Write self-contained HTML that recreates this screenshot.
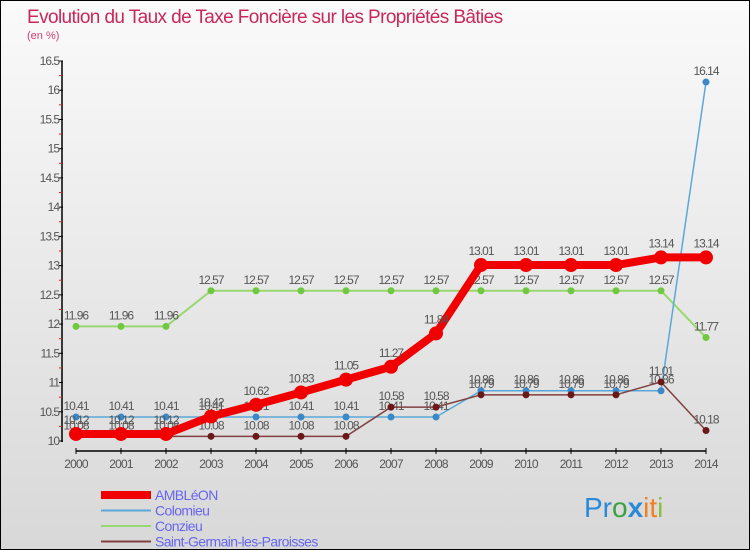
<!DOCTYPE html>
<html><head><meta charset="utf-8">
<style>
html,body{margin:0;padding:0}
body{width:750px;height:550px;overflow:hidden;font-family:"Liberation Sans",sans-serif}
#wrap{position:relative;width:748px;height:548px;border:1px solid #000;background:linear-gradient(#fafafa,#d8d8d8)}
</style></head>
<body>
<div id="wrap">
<svg id="chart" width="748" height="548" style="position:absolute;left:0;top:0">
<text x="26" y="22" font-size="19" fill="#c8285a" style="letter-spacing:-0.6px">Evolution du Taux de Taxe Foncière sur les Propriétés Bâties</text>
<text x="26" y="38" font-size="11" fill="#d04070">(en %)</text>
<g id="axes"></g>
<g id="series"></g>
<g id="legend"></g>
<text x="583" y="516" font-size="28"><tspan fill="#2a8ad8">Pr</tspan><tspan fill="#3aa040">o</tspan><tspan fill="#2a8ad8" font-weight="bold">x</tspan><tspan fill="#f08020">it</tspan><tspan fill="#88c040">i</tspan></text>
</svg>
</div>
<script>
const years=[2000,2001,2002,2003,2004,2005,2006,2007,2008,2009,2010,2011,2012,2013,2014];
const yTicks=[10,10.5,11,11.5,12,12.5,13,13.5,14,14.5,15,15.5,16,16.5];
const ambleon=[10.12,10.12,10.12,10.42,10.62,10.83,11.05,11.27,11.84,13.01,13.01,13.01,13.01,13.14,13.14];
const colomieu=[10.41,10.41,10.41,10.41,10.41,10.41,10.41,10.41,10.41,10.86,10.86,10.86,10.86,10.86,16.14];
const conzieu=[11.96,11.96,11.96,12.57,12.57,12.57,12.57,12.57,12.57,12.57,12.57,12.57,12.57,12.57,11.77];
const stgermain=[10.08,10.08,10.08,10.08,10.08,10.08,10.08,10.58,10.58,10.79,10.79,10.79,10.79,11.01,10.18];
const NS="http://www.w3.org/2000/svg";
const X=i=>75+i*(705-75)/(years.length-1);
const Y=v=>440-(v-10)*(380/6.5);
function mk(tag,attrs,parent){const e=document.createElementNS(NS,tag);for(const k in attrs)e.setAttribute(k,attrs[k]);parent.appendChild(e);return e;}
const axes=document.getElementById('axes');
let e=mk('line',{x1:61,y1:60,x2:61,y2:441,stroke:'#000','stroke-width':1.5},axes);


e=mk('line',{x1:75,y1:450,x2:705,y2:450,stroke:'#000','stroke-width':1.5},axes);


yTicks.forEach(t=>{
  const y=Y(t);
  mk('line',{x1:58,y1:y,x2:62,y2:y,stroke:'#000'},axes);
  if(t<16.5) mk('line',{x1:58,y1:Y(t+0.25),x2:61,y2:Y(t+0.25),stroke:'#e02020'},axes);
  const tx=mk('text',{x:58,y:y+4,'font-size':12,fill:'#555','text-anchor':'end','letter-spacing':'-1'},axes);
  tx.textContent=String(t);
  
  
});
years.forEach((yr,i)=>{
  const x=X(i);
  mk('line',{x1:x,y1:447,x2:x,y2:453,stroke:'#000'},axes);
  const tx=mk('text',{x:x,y:467,'font-size':12,fill:'#555','text-anchor':'middle','letter-spacing':'-0.8'},axes);
  tx.textContent=yr;
  
  
});
const series=[
 {name:'conzieu',data:conzieu,color:'#99d870',dot:'#70c840',w:2,r:3.5},
 {name:'colomieu',data:colomieu,color:'#5aa8d8',dot:'#3a88c8',w:1.5,r:3.5},
 {name:'saint-germain',data:stgermain,color:'#804040',dot:'#6a1818',w:1.5,r:3.5},
 {name:'ambleon',data:ambleon,color:'#f00000',dot:'#f00000',w:8,r:7}
];
const sg=document.getElementById('series');
series.forEach(s=>{
  const g=mk('g',{},sg);
  
  
  const pl=mk('polyline',{points:s.data.map((v,i)=>X(i)+','+Y(v)).join(' '),fill:'none',stroke:s.color,'stroke-width':s.w,'stroke-linejoin':'round'},g);
  
  
  s.data.forEach((v,i)=>{
    const c=mk('circle',{cx:X(i),cy:Y(v),r:s.r,fill:s.dot},g);
    
    
    const t=mk('text',{x:X(i),y:Y(v)-(s.name==='ambleon'?10:7),'font-size':12,fill:'#555','text-anchor':'middle','letter-spacing':'-1'},g);
    t.textContent=String(v);
    
    
  });
});
const lg=document.getElementById('legend');
const leg=[['AMBLéON','#f00000',8],['Colomieu','#5aa8d8',2],['Conzieu','#99d870',2],['Saint-Germain-les-Paroisses','#804040',2]];
leg.forEach((l,i)=>{
  const y=494+i*15.5;
  const g=mk('g',{},lg);
  
  
  mk('line',{x1:100,y1:y,x2:150,y2:y,stroke:l[1],'stroke-width':l[2]},g);
  const t=mk('text',{x:154,y:y+5,'font-size':14,fill:'#6666ee','letter-spacing':'-0.6'},g);
  t.textContent=l[0];
});
</script>
</body></html>
